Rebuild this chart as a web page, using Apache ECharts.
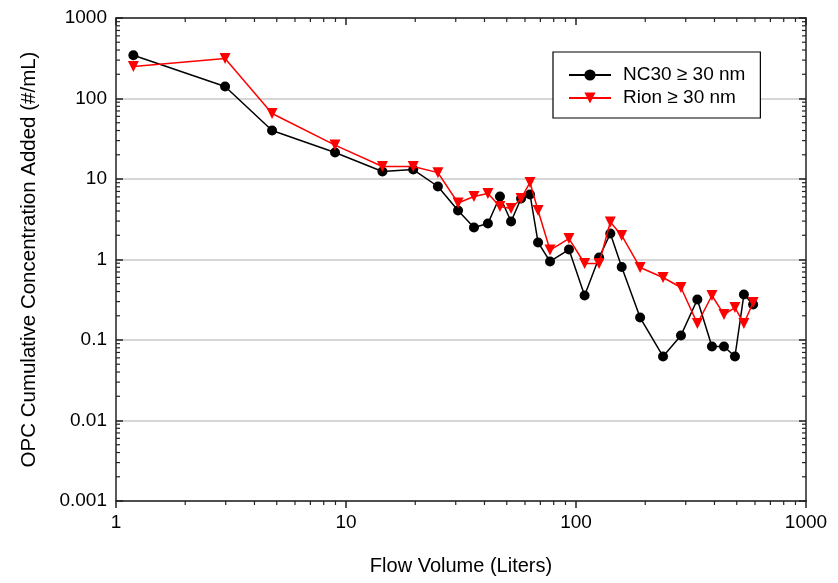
<!DOCTYPE html>
<html><head><meta charset="utf-8">
<script src="https://cdn.jsdelivr.net/npm/echarts@6/dist/echarts.min.js"></script>
<style>html,body{margin:0;padding:0;background:#fff}#c{width:838px;height:583px}</style>
</head><body><div id="c"></div>
<script>
// ---- data ----
const flowVolume = [1.19, 2.98, 4.77, 8.96, 14.4, 19.6, 25.1, 30.7, 36.0, 41.4, 46.7, 52.2, 57.7, 63.1, 68.4, 77.1, 93.2, 109, 126, 141, 158, 190, 239, 286, 337, 390, 440, 491, 537, 589];
const nc30 = [345, 141, 40.0, 21.3, 12.4, 13.1, 8.07, 4.06, 2.50, 2.80, 6.06, 2.97, 5.72, 6.42, 1.63, 0.945, 1.33, 0.357, 1.06, 2.10, 0.807, 0.19, 0.0624, 0.114, 0.319, 0.083, 0.083, 0.0624, 0.367, 0.276];
const rion = [250, 314, 65.1, 26.4, 14.3, 14.3, 12.0, 5.03, 6.06, 6.61, 4.55, 4.30, 5.72, 9.05, 4.06, 1.31, 1.82, 0.892, 0.892, 2.92, 1.99, 0.795, 0.598, 0.449, 0.160, 0.357, 0.207, 0.253, 0.160, 0.292];
const xTickLabels = ['1', '10', '100', '1000'];
const yTickLabels = ['0.001', '0.01', '0.1', '1', '10', '100', '1000'];
const seriesNames = ['NC30 \u2265 30 nm', 'Rion \u2265 30 nm'];
const xTitle = 'Flow Volume (Liters)';
const yTitle = 'OPC Cumulative Concentration Added (#/mL)';

// ---- chart ----
const FONT = '"Liberation Sans", Arial, sans-serif';
const xMin = 1, xMax = 1000, yMin = 0.001, yMax = 1000;
const axisColor = '#222';

function xLabel(v) { return xTickLabels[Math.round(Math.log10(v))] || ''; }
function yLabel(v) { return yTickLabels[Math.round(Math.log10(v)) + 3] || ''; }

function renderMinorTicks(params, api) {
  const children = [];
  const style = { stroke: axisColor, lineWidth: 1.2 };
  const L = 4;
  for (let e = 0; e < 3; e++) {
    for (let k = 2; k < 10; k++) {
      const v = k * Math.pow(10, e);
      const b = api.coord([v, yMin]);
      const t = api.coord([v, yMax]);
      children.push({ type: 'line', shape: { x1: b[0], y1: b[1], x2: b[0], y2: b[1] + L }, style });
      children.push({ type: 'line', shape: { x1: t[0], y1: t[1], x2: t[0], y2: t[1] + L }, style });
    }
  }
  for (let e = -3; e < 3; e++) {
    for (let k = 2; k < 10; k++) {
      const v = k * Math.pow(10, e);
      const l = api.coord([xMin, v]);
      const r = api.coord([xMax, v]);
      children.push({ type: 'line', shape: { x1: l[0], y1: l[1], x2: l[0] + L, y2: l[1] }, style });
      children.push({ type: 'line', shape: { x1: r[0] - L, y1: r[1], x2: r[0], y2: r[1] }, style });
    }
  }
  return { type: 'group', children };
}

const baseAxisLine = { show: true, onZero: false, lineStyle: { color: axisColor, width: 1.5 } };

const option = {
  backgroundColor: '#fff',
  animation: false,
  textStyle: { fontFamily: FONT },
  grid: { left: 116, top: 18, right: 32, bottom: 82, containLabel: false },
  legend: {
    data: seriesNames,
    orient: 'vertical',
    left: 553, top: 52,
    padding: [13, 15, 10, 15],
    itemGap: 3, itemWidth: 42, itemHeight: 14,
    borderColor: '#000', borderWidth: 1.2, backgroundColor: '#fff',
    textStyle: { fontFamily: FONT, fontSize: 19, color: '#000', lineHeight: 20, padding: [0, 0, 0, 7] }
  },
  xAxis: [
    {
      type: 'log', logBase: 10, min: xMin, max: xMax, splitNumber: 3, position: 'bottom',
      name: xTitle, nameLocation: 'middle', nameGap: 55,
      nameTextStyle: { fontFamily: FONT, fontSize: 20, color: '#000' },
      axisLine: baseAxisLine,
      axisTick: { show: true, inside: false, length: 7, lineStyle: { color: axisColor, width: 1.5 } },
      axisLabel: { fontFamily: FONT, fontSize: 19, color: '#000', margin: 12, formatter: xLabel },
      splitLine: { show: false }
    },
    {
      type: 'log', logBase: 10, min: xMin, max: xMax, splitNumber: 3, position: 'top',
      axisLine: baseAxisLine,
      axisTick: { show: true, inside: true, length: 7, lineStyle: { color: axisColor, width: 1.5 } },
      axisLabel: { show: false },
      splitLine: { show: false }
    }
  ],
  yAxis: [
    {
      type: 'log', logBase: 10, min: yMin, max: yMax, splitNumber: 6, position: 'left',
      name: yTitle, nameLocation: 'middle', nameGap: 76, nameRotate: 90,
      nameTextStyle: { fontFamily: FONT, fontSize: 20.5, color: '#000' },
      axisLine: baseAxisLine,
      axisTick: { show: true, inside: true, length: 7, lineStyle: { color: axisColor, width: 1.5 } },
      axisLabel: { fontFamily: FONT, fontSize: 19, color: '#000', margin: 9, formatter: yLabel },
      splitLine: { show: true, lineStyle: { color: '#c8c8c8', width: 1.5 } }
    },
    {
      type: 'log', logBase: 10, min: yMin, max: yMax, splitNumber: 6, position: 'right',
      axisLine: baseAxisLine,
      axisTick: { show: true, inside: true, length: 7, lineStyle: { color: axisColor, width: 1.5 } },
      axisLabel: { show: false },
      splitLine: { show: false }
    }
  ],
  series: [
    {
      name: seriesNames[0], type: 'line', xAxisIndex: 0, yAxisIndex: 0,
      data: flowVolume.map((x, i) => [x, nc30[i]]),
      symbol: 'circle', symbolSize: 10,
      lineStyle: { color: '#000', width: 1.5 },
      itemStyle: { color: '#000' },
      z: 3
    },
    {
      name: seriesNames[1], type: 'line', xAxisIndex: 0, yAxisIndex: 0,
      data: flowVolume.map((x, i) => [x, rion[i]]),
      symbol: 'triangle', symbolRotate: 180, symbolSize: 11,
      lineStyle: { color: '#ff0000', width: 1.5 },
      itemStyle: { color: '#ff0000' },
      z: 4
    },
    {
      name: 'minorTicks', type: 'custom', xAxisIndex: 0, yAxisIndex: 0,
      data: [[1, 1]], renderItem: renderMinorTicks, silent: true, clip: false, z: 5
    }
  ]
};

const chart = echarts.init(document.getElementById('c'), null, { renderer: 'canvas' });
chart.setOption(option);
</script>
</body></html>
